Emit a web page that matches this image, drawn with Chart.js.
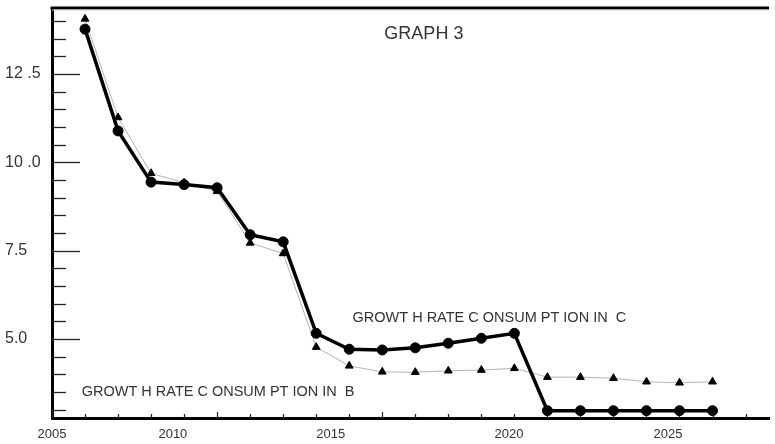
<!DOCTYPE html>
<html>
<head>
<meta charset="utf-8">
<script src="https://cdn.jsdelivr.net/npm/chart.js@4/dist/chart.umd.min.js"></script>
<style>
  html, body { margin: 0; padding: 0; background: #fff; }
  canvas { display: block; }
</style>
</head>
<body>
<canvas id="graphCanvas" width="775" height="444"></canvas>
<script>
// data
var years = [2006, 2007, 2008, 2009, 2010, 2011, 2012, 2013, 2014, 2015,
             2016, 2017, 2018, 2019, 2020, 2021, 2022, 2023, 2024, 2025];
var consumptionC = [13.77, 10.89, 9.44, 9.37, 9.28, 7.95, 7.75, 5.16, 4.71, 4.69,
                    4.75, 4.88, 5.02, 5.16, 2.97, 2.97, 2.97, 2.97, 2.97, 2.97];
var consumptionB = [14.06, 11.27, 9.69, 9.42, 9.18, 7.72, 7.42, 4.77, 4.24, 4.07,
                    4.06, 4.10, 4.12, 4.17, 3.92, 3.92, 3.89, 3.79, 3.76, 3.79];

// axis labels (the year labels sit where the original printed them)
var xTickLabels = ['2005', '2010', '2015', '2020', '2025'];
var xTickSpots = [2005, 2008.66, 2013.44, 2018.84, 2023.65];
var yMajorValues = [5.0, 7.5, 10.0, 12.5];
var yMajorLabels = ['5.0', '7.5', '10 .0', '12 .5'];
var yMinorValues = [3.0, 3.5, 4.0, 4.5, 5.0, 5.5, 6.0, 6.5, 7.0, 7.5, 8.0, 8.5, 9.0,
                    9.5, 10.0, 10.5, 11.0, 11.5, 12.0, 12.5, 13.0, 13.5, 14.0];

var labelC = 'GROWT H RATE C ONSUM PT ION IN  C';
var labelB = 'GROWT H RATE C ONSUM PT ION IN  B';
var titleText = 'GRAPH 3';

var fontFamily = "'Liberation Sans', Arial, Helvetica, sans-serif";
var textColor = '#333';

// text notes placed in data units
var notes = [
    { text: titleText, x: 2016.26, y: 13.62, size: 18, align: 'center' },
    { text: labelC, x: 2014.1, y: 5.59, size: 14.5, align: 'left' },
    { text: labelB, x: 2005.9, y: 3.5, size: 14.5, align: 'left' }
];

var frameAndTicks = {
    id: 'frameAndTicks',
    beforeDatasetsDraw: function (chart) {
        var ctx = chart.ctx;
        var area = chart.chartArea;
        var xs = chart.scales.x;
        var ys = chart.scales.y;
        ctx.save();

        // top frame line
        ctx.strokeStyle = '#000';
        ctx.lineWidth = 3;
        ctx.beginPath();
        ctx.moveTo(area.left - 1.5, area.top);
        ctx.lineTo(area.right, area.top);
        ctx.stroke();
        ctx.strokeStyle = '#c8c8c8';
        ctx.lineWidth = 1;
        ctx.beginPath();
        ctx.moveTo(area.left, area.top + 2);
        ctx.lineTo(area.right, area.top + 2);
        ctx.stroke();

        // y ticks, drawn inward
        ctx.strokeStyle = '#222';
        ctx.lineWidth = 1.3;
        yMinorValues.forEach(function (v) {
            var py = Math.round(ys.getPixelForValue(v)) + 0.5;
            var len = yMajorValues.indexOf(v) >= 0 ? 28 : 14;
            ctx.beginPath();
            ctx.moveTo(area.left, py);
            ctx.lineTo(area.left + len, py);
            ctx.stroke();
        });

        // x ticks, one per year, drawn upward
        ctx.lineWidth = 1.2;
        for (var yr = Math.ceil(xs.min); yr <= Math.floor(xs.max); yr++) {
            var px = Math.round(xs.getPixelForValue(yr)) + 0.5;
            var h = (yr % 5 === 0) ? 6 : 4;
            ctx.beginPath();
            ctx.moveTo(px, area.bottom);
            ctx.lineTo(px, area.bottom - h);
            ctx.stroke();
        }

        // text notes
        ctx.fillStyle = textColor;
        ctx.textBaseline = 'middle';
        notes.forEach(function (n) {
            ctx.font = n.size + 'px ' + fontFamily;
            ctx.textAlign = n.align;
            ctx.fillText(n.text, xs.getPixelForValue(n.x), ys.getPixelForValue(n.y));
        });
        ctx.restore();
    }
};

var ctx = document.getElementById('graphCanvas').getContext('2d');

var myLineChart = new Chart(ctx, {
    type: 'line',
    data: {
        datasets: [{
            label: labelC,
            data: years.map(function (yr, i) { return { x: yr, y: consumptionC[i] }; }),
            borderColor: '#000',
            borderWidth: 3.5,
            pointStyle: 'circle',
            pointRadius: 5,
            pointBackgroundColor: '#000',
            pointBorderColor: '#000',
            pointBorderWidth: 1,
            tension: 0
        }, {
            label: labelB,
            data: years.map(function (yr, i) { return { x: yr, y: consumptionB[i] }; }),
            borderColor: '#b4b4b4',
            borderWidth: 1,
            pointStyle: 'triangle',
            pointRadius: 4.5,
            pointBackgroundColor: '#000',
            pointBorderColor: '#000',
            pointBorderWidth: 1,
            tension: 0
        }]
    },
    options: {
        responsive: false,
        animation: false,
        devicePixelRatio: 1,
        layout: { padding: { left: 5, top: 8, right: 0, bottom: 0 } },
        plugins: {
            legend: { display: false },
            tooltip: { enabled: false }
        },
        scales: {
            x: {
                type: 'linear',
                min: 2005,
                max: 2026.71,
                afterBuildTicks: function (s) {
                    s.ticks = xTickSpots.map(function (v) { return { value: v }; });
                },
                afterFit: function (s) {
                    s.height = 26;
                    s.paddingLeft = 0;
                    s.paddingRight = 0;
                },
                ticks: {
                    callback: function (v, i) { return xTickLabels[i]; },
                    autoSkip: false,
                    maxRotation: 0,
                    padding: 9,
                    color: textColor,
                    font: { family: fontFamily, size: 13 }
                },
                grid: { display: false, drawTicks: false },
                border: { display: true, color: '#000', width: 3 }
            },
            y: {
                type: 'linear',
                min: 2.764,
                max: 14.368,
                afterBuildTicks: function (s) {
                    s.ticks = yMajorValues.map(function (v) { return { value: v }; });
                },
                afterFit: function (s) {
                    s.width = 47;
                    s.paddingTop = 0;
                    s.paddingBottom = 0;
                },
                ticks: {
                    callback: function (v, i) { return yMajorLabels[i]; },
                    autoSkip: false,
                    crossAlign: 'far',
                    color: textColor,
                    font: { family: fontFamily, size: 16 }
                },
                grid: { display: false, drawTicks: false },
                border: { display: true, color: '#000', width: 3 }
            }
        }
    },
    plugins: [frameAndTicks]
});
</script>
</body>
</html>
